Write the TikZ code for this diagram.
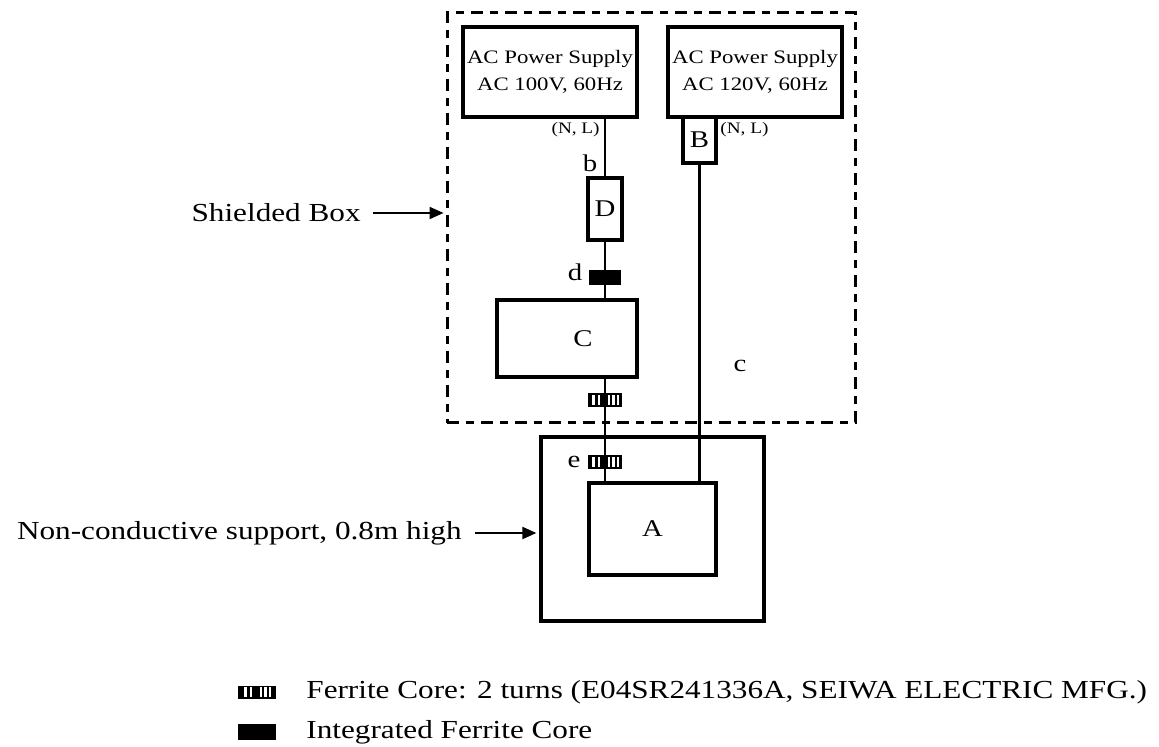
\documentclass[tikz,border=0pt]{standalone}
\usepackage{fontspec}
\setmainfont{Liberation Serif}[FakeStretch=1.2]
\usetikzlibrary{arrows.meta,positioning}

\begin{document}
\begin{tikzpicture}[
  x=0.5pt,y=-0.5pt,
  box/.style={rectangle,draw,line width=1.6pt,inner sep=0pt,align=center,font=\fontsize{9.5}{13.5}\selectfont},
  letter/.style={font=\fontsize{12}{14}\selectfont,inner sep=0pt},
  tag/.style={font=\fontsize{8}{9}\selectfont,inner sep=0pt},
  caption/.style={font=\fontsize{13}{15}\selectfont,inner sep=0pt},
  shield/.style={rectangle,draw,line width=1.5pt,dash pattern=on 6pt off 3.5pt on 4pt off 3.5pt,inner sep=0pt},
  core/.style={rectangle,fill=black,inner sep=0pt,minimum width=16pt,minimum height=7.5pt},
  ferrite/.style={core,minimum width=17pt,minimum height=7pt,
    path picture={\foreach \bx in {-5.8,-3.2,1.8,4.2,6.4}{\fill[white] ([xshift=\bx pt]path picture bounding box.center) +(-0.55pt,-2.3pt) rectangle +(0.55pt,2.3pt);}}},
  cable/.style={line width=1.4pt},
  arr/.style={-{Triangle[length=7pt,width=6pt]},line width=1pt}
]
\useasboundingbox (0,0) rectangle (1159,747);

% shielded box and its contents
\node[shield,minimum width=204pt,minimum height=205pt] (shieldbox) at (651,218) {};
\node[box,minimum width=87pt,minimum height=45pt] (supply1) at (550,72) {AC Power Supply\\AC 100V, 60Hz};
\node[box,minimum width=87pt,minimum height=45pt] (supply2) at (755,72) {AC Power Supply\\AC 120V, 60Hz};
\node[box,letter,minimum width=16.5pt,minimum height=23pt] (B) at (699.5,140) {B};
\node[box,letter,minimum width=17pt,minimum height=31pt] (D) at (605,209) {D};
\node[core] (dcore) at (605,277.5) {};
\node[box,minimum width=70pt,minimum height=38.5pt] (C) at (567,338.5) {};
\node[letter] (Clabel) at (583,338.5) {C};
\node[ferrite] (cferrite) at (605,400) {};

% support table with A
\node[box,minimum width=111.5pt,minimum height=92pt] (support) at (652.5,529) {};
\node[box,letter,minimum width=63.5pt,minimum height=46pt] (A) at (652.5,529) {A};
\node[ferrite] (eferrite) at (605,462) {};

% cables
\draw[cable] (D |- supply1.south) -- (D.north);
\draw[cable] (D.south) -- (D |- C.north);
\draw[cable] (D |- C.south) -- (D |- A.north);
\draw[cable] (B.south) -- (B |- A.north);

% cable labels
\node[tag,anchor=east] (nl1) at (600,130) {(N, L)};
\node[tag,anchor=west] (nl2) at (720,130) {(N, L)};
\node[letter] (blabel) at (590,163) {b};
\node[letter] (dlabel) at (575,272) {d};
\node[letter] (clabel) at (740,366) {c};
\node[letter] (elabel) at (574,462) {e};

% outside labels
\node[caption,anchor=east] (shieldlabel) at (361,213) {Shielded Box};
\node[caption,anchor=east] (supportlabel) at (462,533) {Non-conductive support, 0.8m high};
\draw[arr,shorten >=1pt] ([xshift=6pt]shieldlabel.east) -- (shieldlabel -| shieldbox.west);
\draw[arr,shorten >=1.5pt] ([xshift=6.5pt]supportlabel.east) -- (supportlabel -| support.west);

% legend
\node[ferrite,minimum width=19pt,minimum height=6.5pt] (legferrite) at (257,692) {};
\node[caption,anchor=west] (legtext1) at (306,692) {Ferrite Core: 2 turns (E04SR241336A, SEIWA ELECTRIC MFG.)};
\node[core,minimum width=19pt,minimum height=8pt] (legcore) at (257,732) {};
\node[caption,anchor=west] (legtext2) at (306,732) {Integrated Ferrite Core};
\end{tikzpicture}
\end{document}
